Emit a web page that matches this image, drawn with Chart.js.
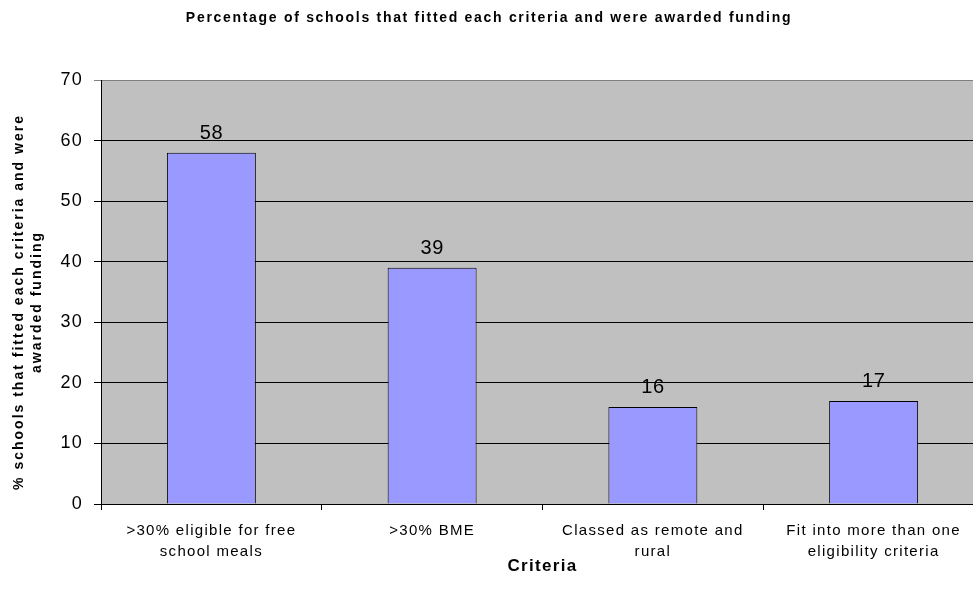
<!DOCTYPE html>
<html>
<head>
<meta charset="utf-8">
<script src="https://cdn.jsdelivr.net/npm/chart.js@4"></script>
<style>
  html, body { margin: 0; padding: 0; background: #fff; }
  #wrap { width: 973px; height: 605px; overflow: hidden; }
</style>
</head>
<body>
<div id="wrap"><canvas id="grafico"></canvas></div>
<script>
// Datos del gráfico
const categorias = [
    ['>30% eligible for free', 'school meals'],
    ['>30% BME'],
    ['Classed as remote and', 'rural'],
    ['Fit into more than one', 'eligibility criteria']
];
const valores = [58, 39, 16, 17];
const tituloGrafico = 'Percentage of schools that fitted each criteria and were awarded funding';
const tituloY = ['% schools that fitted each criteria and were', 'awarded funding'];
const tituloX = 'Criteria';

const fuente = '"Liberation Sans", Arial, sans-serif';

// Fondo gris del área de trazado y espaciado de letras (estilo Excel)
const fondoPlot = {
    id: 'fondoPlot',
    beforeDraw(chart) {
        const { ctx, chartArea: a } = chart;
        ctx.save();
        ctx.fillStyle = '#C0C0C0';
        ctx.fillRect(a.left, a.top, a.right - a.left, a.bottom - a.top);
        ctx.restore();
        ctx.letterSpacing = '1.3px';
    }
};

// Etiquetas de valor encima de cada barra
const etiquetasValor = {
    id: 'etiquetasValor',
    afterDatasetsDraw(chart) {
        const { ctx } = chart;
        const meta = chart.getDatasetMeta(0);
        ctx.save();
        ctx.letterSpacing = '0.5px';
        ctx.font = '20px ' + fuente;
        ctx.fillStyle = '#000';
        ctx.textAlign = 'center';
        ctx.textBaseline = 'alphabetic';
        meta.data.forEach((bar, i) => {
            ctx.fillText(chart.data.datasets[0].data[i], bar.x, bar.y - 14);
        });
        ctx.restore();
    }
};

// Títulos (principal y eje Y)
const titulos = {
    id: 'titulos',
    afterDraw(chart) {
        const { ctx } = chart;
        ctx.save();
        ctx.fillStyle = '#000';
        ctx.textAlign = 'center';
        ctx.textBaseline = 'middle';
        ctx.letterSpacing = '1.7px';
        ctx.font = 'bold 14px ' + fuente;
        ctx.fillText(tituloGrafico, 489, 18);

        ctx.letterSpacing = '2px';
        ctx.font = 'bold 14px ' + fuente;
        ctx.translate(0, 302);
        ctx.rotate(-Math.PI / 2);
        ctx.fillText(tituloY[0], 0, 19);
        ctx.fillText(tituloY[1], 0, 37);
        ctx.restore();
    }
};

const config = {
    type: 'bar',
    data: {
        labels: categorias,
        datasets: [{
            data: valores,
            backgroundColor: '#9999FF',
            borderColor: '#000',
            borderWidth: 1,
            barPercentage: 0.403,
            categoryPercentage: 1
        }]
    },
    options: {
        responsive: false,
        animation: false,
        layout: { padding: { top: 80, right: 6, left: 0, bottom: 0 } },
        plugins: {
            legend: { display: false },
            tooltip: { enabled: false }
        },
        scales: {
            x: {
                offset: true,
                grid: {
                    offset: true,
                    drawOnChartArea: false,
                    color: '#000',
                    tickLength: 6
                },
                border: { color: '#000', width: 1 },
                ticks: {
                    color: '#000',
                    font: { family: fuente, size: 15, lineHeight: 1.4 },
                    maxRotation: 0,
                    autoSkip: false,
                    padding: 10
                },
                title: {
                    display: true,
                    text: tituloX,
                    color: '#000',
                    font: { family: fuente, size: 17, weight: 'bold' },
                    padding: { top: 0, bottom: 28 }
                },
                afterFit(scale) { scale.height = 101; }
            },
            y: {
                min: 0,
                max: 70,
                ticks: {
                    stepSize: 10,
                    color: '#000',
                    font: { family: fuente, size: 18 },
                    padding: 11
                },
                grid: {
                    color: (c) => c.tick && c.tick.value === 70 ? '#808080' : '#000',
                    tickLength: 7
                },
                border: { color: '#000', width: 1 },
                afterFit(scale) { scale.width = 101; }
            }
        }
    },
    plugins: [fondoPlot, etiquetasValor, titulos]
};

const canvas = document.getElementById('grafico');
canvas.width = 990;
canvas.height = 605;
new Chart(canvas.getContext('2d'), config);
</script>
</body>
</html>
